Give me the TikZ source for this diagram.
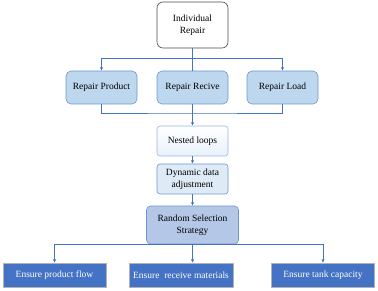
\documentclass[tikz,border=0pt]{standalone}
\usepackage{fontspec}
\setmainfont{Liberation Serif}
\usepackage{tikz}
\usetikzlibrary{arrows.meta,positioning,calc}
\usepackage{xcolor}
\definecolor{linkblue}{HTML}{4472C4}
\definecolor{paleblue}{HTML}{BDD7EE}
\definecolor{rimblue}{HTML}{6F95D0}
\definecolor{softblue}{HTML}{DEEBF7}
\definecolor{midblue}{HTML}{B4C7E7}
\definecolor{deepblue}{HTML}{4472C4}

\begin{document}
\begin{tikzpicture}[x=1pt,y=-1pt,>={Latex[length=3.2pt,width=3.2pt]},
  font=\fontsize{9.5}{11.5}\selectfont,
  base/.style={draw,align=center,inner sep=1pt,line width=0.6pt},
  startbox/.style={base,draw=black!70,fill=white,rounded corners=6pt,minimum width=71pt,minimum height=46pt},
  repairbox/.style={base,draw=rimblue,fill=paleblue,rounded corners=5pt,minimum width=71pt,minimum height=33pt},
  loopbox/.style={base,draw=rimblue!70,top color=white,bottom color=softblue!70,rounded corners=3pt,minimum width=71pt,minimum height=30pt},
  adjbox/.style={base,draw=rimblue,fill=softblue,rounded corners=3pt,minimum width=71pt,minimum height=30pt},
  stratbox/.style={base,draw=rimblue,fill=midblue,rounded corners=4pt,minimum width=92pt,minimum height=38pt},
  goalbox/.style={base,draw=black!30,fill=deepblue,text=white,minimum width=103pt,minimum height=24pt},
  link/.style={draw=linkblue,line width=0.6pt}]
\useasboundingbox (0,0) rectangle (378,291);

\node[startbox] (ind) at (192.5,25) {Individual\\Repair};
\node[repairbox] (rprod) at (101.5,87.5) {Repair Product};
\node[repairbox] (rrec) at (192.5,87.5) {Repair Recive};
\node[repairbox] (rload) at (282.5,87.5) {Repair Load};
\node[loopbox] (nest) at (192.5,141) {Nested loops};
\node[adjbox] (dyn) at (192.5,179) {Dynamic data\\adjustment};
\node[stratbox] (rand) at (192.5,225) {Random Selection\\Strategy};
\node[goalbox] (flow) at (54.5,275) {Ensure product flow};
\node[goalbox,minimum width=104pt] (recv) at (181,275) {Ensure\ \ receive materials};
\node[goalbox] (tank) at (323,275) {Ensure tank capacity};

\coordinate (split) at (192.5,58);
\coordinate (merge) at (192.5,113);

\draw[link] (ind) -- (rrec);
\draw[link,->] (split) -| (rprod);
\draw[link,->] (split) -| (rload);
\draw[link] (rprod) |- (merge) -| (rload);
\draw[link] (rrec) -- (merge);
\draw[link,->] (merge) -- (nest);
\draw[link,->] (nest) -- (dyn);
\draw[link,->] (dyn) -- (rand);
\draw[link,->] (rand.south) -| (flow.north);
\draw[link,->] (rand.south) -| (tank.north);
\draw[link,->] (rand.south) -- (rand.south |- recv.north);
\end{tikzpicture}
\end{document}
